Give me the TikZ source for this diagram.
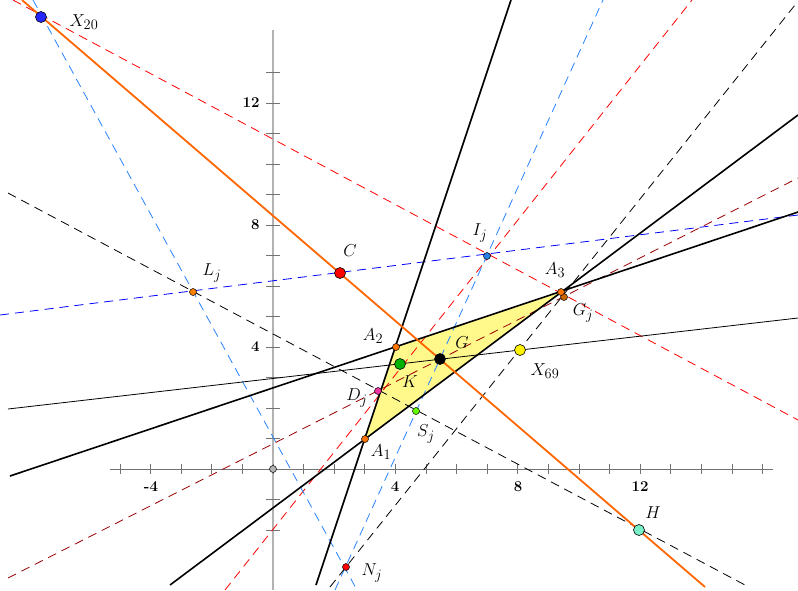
\documentclass[tikz,border=0pt]{standalone}
\usepackage{amsmath}
\begin{document}
\begin{tikzpicture}[x=1pt,y=-1pt,
  thickl/.style={line width=1.6pt,black},
  euler/.style={line width=1.8pt,color={rgb,255:red,255;green,102;blue,0}},
  dsh/.style={dash pattern=on 9pt off 6pt,line width=0.8pt},
  pt/.style={circle,draw=black,line width=0.6pt,inner sep=0pt,minimum size=11pt},
  spt/.style={circle,draw=black,line width=0.5pt,inner sep=0pt,minimum size=7pt},
  lab/.style={font=\fontsize{19}{22}\selectfont},
  tl/.style={font=\fontsize{15}{18}\selectfont\bfseries}]
\useasboundingbox (0,0) rectangle (798,590);
% axes
\draw[gray!60,line width=1.4pt] (273,30) -- (273,590);
\draw[gray!90!black,line width=0.8pt] (110,469) -- (773,469);
\foreach \i in {-5,...,16} {\draw[gray!90!black,line width=0.8pt] ({273+30.6*\i},464) -- ({273+30.6*\i},474);}
\foreach \j in {-2,...,13} {\draw[gray!90!black,line width=0.8pt] (266,{469-30.5*\j}) -- (280,{469-30.5*\j});}
\node[tl] (xm4) at (151,487) {-4};
\node[tl] (x4) at (395,487) {4};
\node[tl] (x8) at (518,487) {8};
\node[tl] (x12) at (640,487) {12};
\node[tl,anchor=east] (y4) at (263,347) {4};
\node[tl,anchor=east] (y8) at (263,225) {8};
\node[tl,anchor=east] (y12) at (263,103) {12};
% triangle fill
\coordinate (a1) at (365,439); \coordinate (a2) at (396,347); \coordinate (a3) at (561,292);
\fill[yellow!45!white] (a1) -- (a2) -- (a3) -- cycle;
% dashed lines
\draw[dsh,red] (13,0) -- (798,420);
\draw[dsh,red] (225,590) -- (692,0);
\draw[dsh,red!60!black] (8,578) -- (798,178);
\draw[dsh,blue] (0,315) -- (798,215);
\draw[dsh,color={rgb,255:red,40;green,130;blue,255}] (33,0) -- (357,590);
\draw[dsh,color={rgb,255:red,40;green,130;blue,255}] (335,590) -- (603,0);
\draw[dsh,black] (8,193) -- (745,585);
\draw[dsh,black] (330,587) -- (795,5);
% solid lines
\draw[black,line width=0.8pt] (8,409) -- (798,318);
\draw[thickl] (316,585) -- (511,0);
\draw[thickl] (10,476) -- (798,212);
\draw[thickl] (170,585) -- (798,115);
\draw[euler] (22,0) -- (705,587);
% points
\node[pt,fill=blue!85!white] (X20) at (41,17) {};
\node[pt,fill=red] (C) at (340,273) {};
\node[pt,fill={rgb,255:red,120;green,240;blue,200}] (H) at (639,530) {};
\node[pt,fill=black] (G) at (440,359) {};
\node[pt,fill=green!70!black] (K) at (400,364) {};
\node[pt,fill=yellow] (X69) at (520,350) {};
\node[spt,fill={rgb,255:red,40;green,130;blue,230}] (Ij) at (487,256) {};
\node[spt,fill=orange] (Lj) at (193,292) {};
\node[spt,fill=orange!90!red] (A1) at (a1) {};
\node[spt,fill=orange!90!red] (A2) at (a2) {};
\node[spt,fill=orange!80!black] (Gj) at (564,297) {};
\node[spt,fill=orange!90!red] (A3) at (a3) {};
\node[spt,fill=magenta!80!white] (Dj) at (378,391) {};
\node[spt,fill=green!60!yellow] (Sj) at (416,411) {};
\node[spt,fill=red] (Nj) at (346,567) {};
\node[spt,fill=gray!60] (O) at (273,469) {};
% labels
\node[lab] (lX20) at (84,22) {$X_{20}$};
\node[lab] (lC) at (350,251) {$C$};
\node[lab] (lH) at (653,513) {$H$};
\node[lab] (lG) at (462,343) {$G$};
\node[lab] (lK) at (410,382) {$K$};
\node[lab] (lX69) at (545,371) {$X_{69}$};
\node[lab] (lIj) at (480,233) {$I_j$};
\node[lab] (lLj) at (212,273) {$L_j$};
\node[lab] (lA1) at (381,452) {$A_1$};
\node[lab] (lA2) at (373,336) {$A_2$};
\node[lab] (lA3) at (555,270) {$A_3$};
\node[lab] (lGj) at (583,313) {$G_j$};
\node[lab] (lDj) at (357,398) {$D_j$};
\node[lab] (lSj) at (426,434) {$S_j$};
\node[lab] (lNj) at (372,573) {$N_j$};
\end{tikzpicture}
\end{document}
